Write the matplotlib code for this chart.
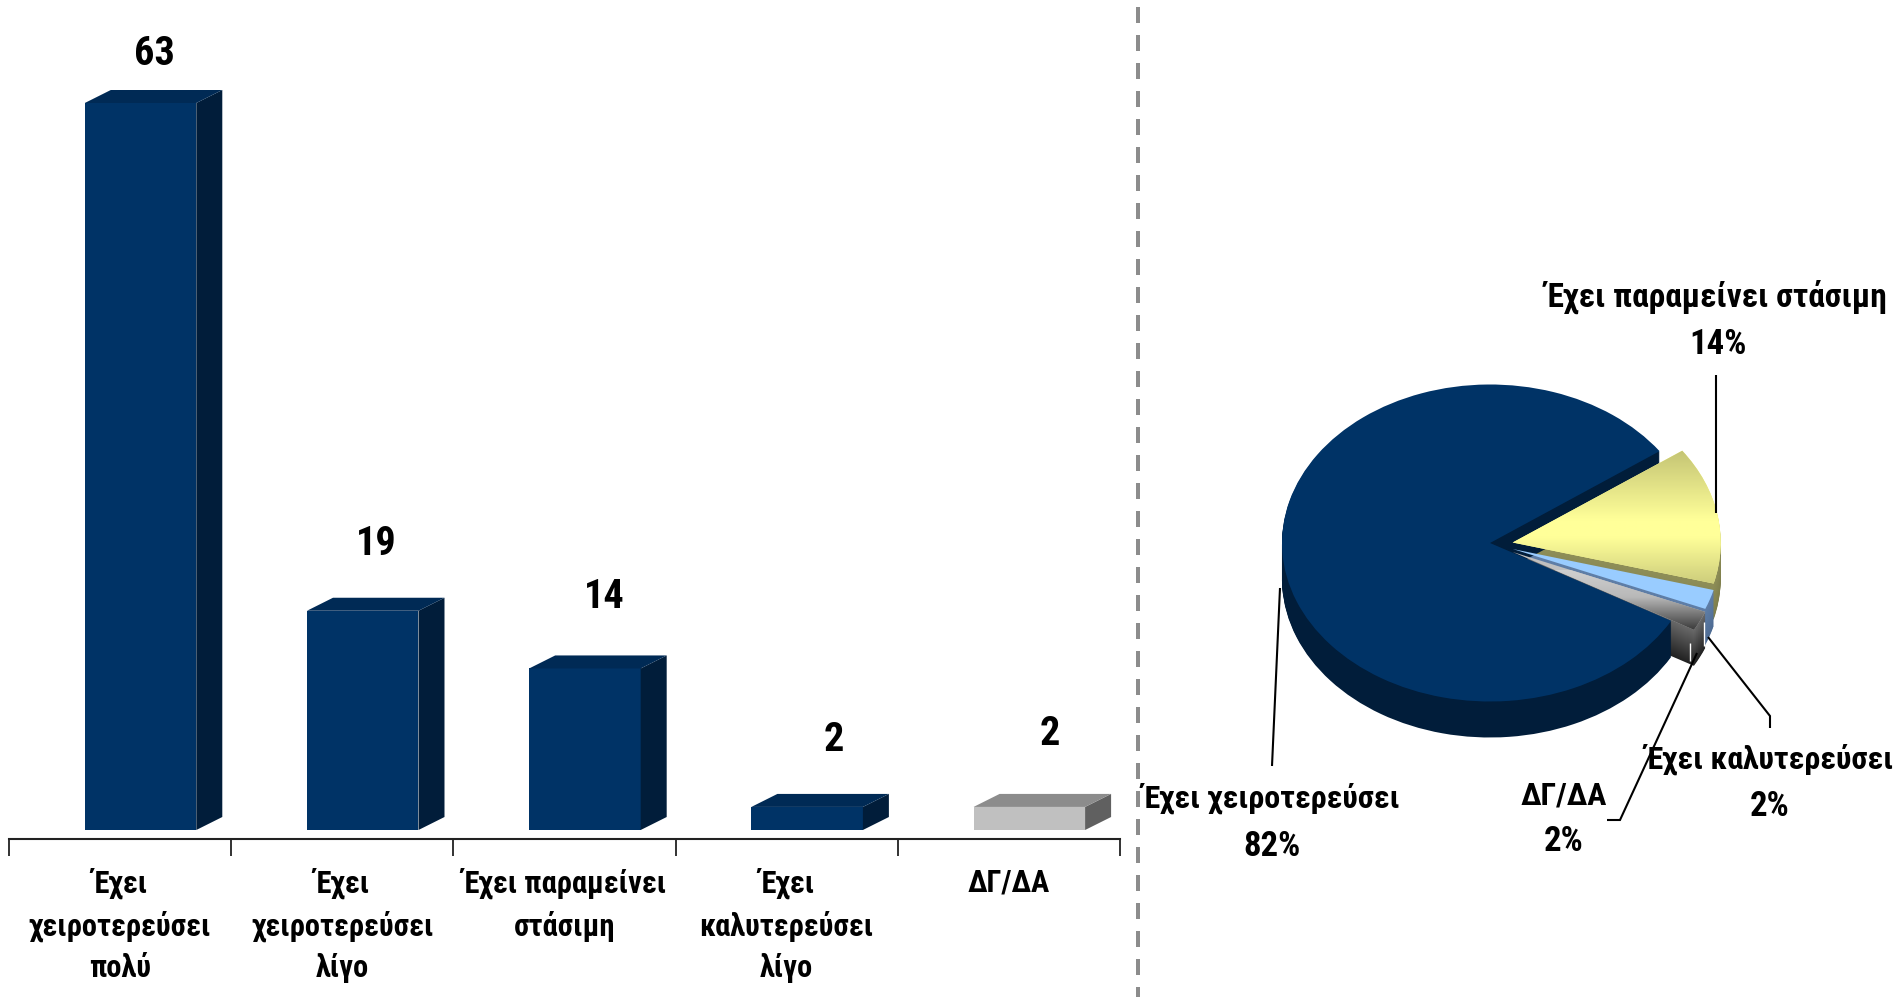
import numpy as np
import matplotlib
matplotlib.use("Agg")
import matplotlib.pyplot as plt
from matplotlib.patches import Polygon
from matplotlib.colors import LinearSegmentedColormap, to_rgb
import logging
logging.getLogger("matplotlib.font_manager").setLevel(logging.ERROR)

plt.rcParams["font.family"] = ["Roboto Condensed", "Liberation Sans", "DejaVu Sans"]
plt.rcParams["font.weight"] = "bold"

# ---------- data ----------
bar_labels = ["Έχει\nχειροτερεύσει\nπολύ", "Έχει\nχειροτερεύσει\nλίγο",
              "Έχει παραμείνει\nστάσιμη", "Έχει\nκαλυτερεύσει\nλίγο", "ΔΓ/ΔΑ"]
bar_values = [63, 19, 14, 2, 2]
bar_front = ["#003366", "#003366", "#003366", "#003366", "#C0C0C0"]
bar_side = ["#011D3A", "#011D3A", "#011D3A", "#011D3A", "#606060"]
bar_top = ["#002A55", "#002A55", "#002A55", "#002A55", "#8C8C8C"]

pie_values = [82, 14, 2, 2]
pie_names = ["Έχει χειροτερεύσει", "Έχει παραμείνει στάσιμη", "Έχει καλυτερεύσει", "ΔΓ/ΔΑ"]

W, H = 1901, 997
fig = plt.figure(figsize=(W / 100, H / 100), dpi=100, facecolor="white")


def px_axes(x0, y0, x1, y1, **kw):
    """Axes from pixel box (y measured from the top)."""
    return fig.add_axes([x0 / W, 1 - y1 / H, (x1 - x0) / W, (y1 - y0) / H], **kw)


# ---------- bar chart ----------
BASE_Y, AXIS_Y = 830, 839
AX_L, AX_R = 9, 1120
PX_UNIT = 727 / 63
PX_CAT = (AX_R - AX_L) / 5
ax = px_axes(AX_L, 60, AX_R, AXIS_Y)
ax.set_xlim(-0.5, 4.5)
ax.set_ylim(-(AXIS_Y - BASE_Y) / PX_UNIT, (BASE_Y - 60) / PX_UNIT)
ax.patch.set_alpha(0)
x = np.arange(5) + 0.092
bw = 111.5 / PX_CAT
ddx, ddy = 26 / PX_CAT, 13 / PX_UNIT
ax.bar(x, bar_values, width=bw, color=bar_front, linewidth=0, clip_on=False)
lab_dx = [13.5, 13.5, 19.5, 26.5, 20.5]
lab_dy = [49.5, 66.5, 71.5, 66.5, 72.5]
for xi, v, cs, ct, dx, dy in zip(x, bar_values, bar_side, bar_top, lab_dx, lab_dy):
    l, r = xi - bw / 2, xi + bw / 2
    ax.add_patch(Polygon([(r, 0), (r + ddx, ddy), (r + ddx, v + ddy), (r, v)],
                         fc=cs, ec="none", clip_on=False))
    ax.add_patch(Polygon([(l, v), (r, v), (r + ddx, v + ddy), (l + ddx, v + ddy)],
                         fc=ct, ec="none", clip_on=False))
    ax.annotate(str(v), (xi, v), xytext=(dx * 0.72, dy * 0.72), textcoords="offset points",
                ha="center", va="center", fontsize=29, fontweight="bold", annotation_clip=False)
for s in ["top", "left", "right"]:
    ax.spines[s].set_visible(False)
ax.spines["bottom"].set_linewidth(1.5)
ax.spines["bottom"].set_color("#222222")
ax.set_yticks([])
ax.set_xticks(np.arange(-0.5, 5, 1))
ax.set_xticklabels([])
ax.tick_params(axis="x", which="major", length=12.2, width=1.3, color="#222222", direction="out")
ax.set_xticks(np.arange(5), minor=True)
ax.set_xticklabels(bar_labels, minor=True, fontsize=22, fontweight="bold", linespacing=1.47)
ax.tick_params(axis="x", which="minor", length=0, pad=20.5)

# ---------- pie chart ----------
CX, CY, RX, RY = 1490, 543, 208, 158.5
P0, P1 = (1230, 370), (1800, 770)
pa = px_axes(P0[0], P0[1], P1[0], P1[1])
xlim = ((P0[0] - CX) / RX, (P1[0] - CX) / RX)
ylim = ((CY - P1[1]) / RY, (CY - P0[1]) / RY)
START = 330.6
DEPTH = 36
# per-slice centre shift in pixels (exploded)
shift = [(0, 0), (22.7, -0.5), (22.7, 6), (22.7, 9)]
side_a = ["#011D3A", "#8E8E58", "#5F7FA8", "#6A6A6A"]
side_b = ["#011D3A", "#7E7E4C", "#4F6C94", "#222222"]
tops = ["#003366", "#FFFF99", "#99CCFF", "#C0C0C0"]


def layer(colors, k, ids):
    """Draw the pie once at depth k, keep only slices in ids."""
    w, _ = pa.pie(pie_values, startangle=START, counterclock=False, colors=colors,
                  radius=1, wedgeprops=dict(linewidth=0))
    for i, wd in enumerate(w):
        if i in ids:
            wd.set_center((shift[i][0] / RX, (-shift[i][1] - k) / RY))
            wd.set_clip_on(False)
        else:
            wd.remove()
    return w


def mix(c1, c2, t):
    a, b = np.array(to_rgb(c1)), np.array(to_rgb(c2))
    return tuple(a + (b - a) * t)


# walls: exploded slices first, then the big slice in front of them
for idx in (1, 2, 3, 0):
    for k in range(DEPTH, 0, -1):
        cols = [mix(a, b, k / DEPTH) for a, b in zip(side_a, side_b)]
        layer(cols, k, {idx})
# tops
layer(tops, 0, {0})
grad_yellow = LinearSegmentedColormap.from_list(
    "y", [(0, "#C4C474"), (0.5, "#FFFF99"), (0.62, "#FFFF99"), (1, "#C6C678")])
grad_gray = LinearSegmentedColormap.from_list(
    "g", [(0, "#D0D0D0"), (0.45, "#B8B8B8"), (1, "#3A3A3A")])
grad = np.linspace(0, 1, 256).reshape(-1, 1)
for idx, cmap, span in [(1, grad_yellow, (450, 590)), (2, None, None), (3, grad_gray, (570, 630))]:
    w = layer(tops, 0, {idx})
    if cmap is not None:
        py0, py1 = span
        im = pa.imshow(grad, cmap=cmap, aspect="auto", interpolation="bilinear",
                       extent=(xlim[0], xlim[1], (CY - py1) / RY, (CY - py0) / RY),
                       origin="upper", zorder=w[idx].get_zorder() + 0.1)
        im.set_clip_path(w[idx])
pa.set_aspect("auto")
pa.set_xlim(*xlim)
pa.set_ylim(*ylim)
pa.patch.set_alpha(0)
pa.axis("off")

# ---------- overlay in pixel coordinates ----------
ov = fig.add_axes([0, 0, 1, 1], zorder=5)
ov.set_xlim(0, W)
ov.set_ylim(H, 0)
ov.axis("off")
ov.patch.set_alpha(0)

# dashed separator
ov.plot([1137.5, 1137.5], [6.7, 997], color="#8C8C8C", lw=2.88, dash_capstyle="butt",
        linestyle=(0, (16 / 4, 12 / 4)))

# white slits on the exploded slices' sides
for lx, ly in [([1689.5, 1689.5], [643, 661]), ([1703.5, 1703.5], [622, 646])]:
    ov.plot(lx, ly, color="white", lw=1.0, solid_capstyle="butt")

# leader lines
leaders = [
    ([1716, 1716], [375, 513]),
    ([1280, 1272], [588, 766]),
    ([1708, 1770, 1770], [637, 716, 728]),
    ([1697, 1620, 1607], [653, 820, 820]),
]
for lx, ly in leaders:
    ov.plot(lx, ly, color="black", lw=1.5, solid_capstyle="butt", solid_joinstyle="miter")

# pie labels
pos_name = [(1271, 798), (1717, 297), (1770, 759), (1564, 795)]
pos_pct = [(1272, 846), (1718, 344), (1770, 806), (1564, 841)]
name_size = [23, 24, 23, 23]
for nm, v, pn, pp, fs in zip(pie_names, pie_values, pos_name, pos_pct, name_size):
    ov.text(*pn, nm, ha="center", va="center", fontsize=fs, fontweight="bold")
    ov.text(*pp, f"{v}%", ha="center", va="center", fontsize=25, fontweight="bold")

fig.savefig("out.png", dpi=100, facecolor="white")
